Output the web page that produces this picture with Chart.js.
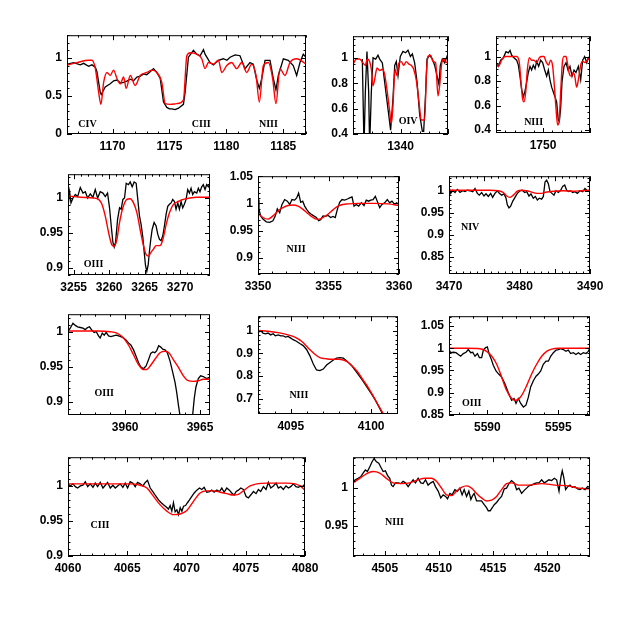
<!DOCTYPE html>
<html><head><meta charset="utf-8">
<script src="https://cdn.jsdelivr.net/npm/chart.js@4/dist/chart.umd.min.js"></script>
<style>html,body{margin:0;padding:0;background:#fff;}#wrap{position:relative;width:623px;height:623px;overflow:hidden;background:#fff}canvas{position:absolute}</style>
</head><body><div id="wrap"></div>
<script>
// ---- Panel 1: CIV / CIII / NIII (1166-1187 A) ----
const p1Obs=[[1166.06,.92],[1166.58,.94],[1167.17,.91],[1167.46,.93],[1167.90,.89],[1168.19,.91],[1168.49,.88],[1168.63,.82],[1168.92,.55],[1169.01,.52],[1169.36,.62],[1169.80,.66],[1170.10,.70],[1170.39,.71],[1170.70,.67],[1170.97,.68],[1171.30,.70],[1171.56,.72],[1171.85,.70],[1172.14,.75],[1172.45,.76],[1172.73,.79],[1173.00,.78],[1173.31,.82],[1173.60,.86],[1173.89,.81],[1174.19,.73],[1174.48,.42],[1174.77,.35],[1175.00,.33],[1175.21,.33],[1175.50,.32],[1175.80,.34],[1176.23,.39],[1176.38,.55],[1176.67,1.01],[1177.11,1.10],[1177.40,1.05],[1177.70,1.03],[1177.99,1.11],[1178.13,1.05],[1178.57,.94],[1178.87,.91],[1179.30,.97],[1179.74,.99],[1180.05,.97],[1180.33,1.01],[1180.77,1.04],[1181.20,1.03],[1181.64,.86],[1182.08,.94],[1182.37,.92],[1182.67,.71],[1182.90,.60],[1183.11,.73],[1183.40,.97],[1183.84,.97],[1184.13,.73],[1184.36,.58],[1184.57,.77],[1185.01,.99],[1185.44,.97],[1185.88,.90],[1186.18,.77],[1186.47,.94],[1186.76,1.05],[1187.0,1.01]];
const p1Fit=[[1166.06,.91],[1166.88,.94],[1167.90,.97],[1168.19,.97],[1168.49,.86],[1168.78,.55],[1168.98,.39],[1169.22,.68],[1169.51,.81],[1169.80,.77],[1170.09,.84],[1170.39,.73],[1170.68,.66],[1170.97,.75],[1171.20,.60],[1171.56,.77],[1171.99,.64],[1172.43,.77],[1173.02,.81],[1173.46,.84],[1173.89,.81],[1174.33,.68],[1174.63,.40],[1175.06,.39],[1175.65,.40],[1176.23,.45],[1176.53,1.03],[1176.82,1.07],[1177.40,1.05],[1177.84,.99],[1178.13,.86],[1178.43,.94],[1178.87,.92],[1179.30,.97],[1179.60,.81],[1180.04,.90],[1180.47,.94],[1180.91,.86],[1181.35,.94],[1181.79,.81],[1182.23,.92],[1182.61,.77],[1182.90,.42],[1183.25,.90],[1183.69,.94],[1184.07,.73],[1184.36,.40],[1184.71,.86],[1185.15,.77],[1185.59,.94],[1186.18,.99],[1187.0,.92]];
// ---- Panel 2: OIV (1335-1345 A) ----
const p2Obs=[[1335.98,.99],[1336.16,.30],[1336.30,.73],[1336.47,1.05],[1336.65,.73],[1336.75,.30],[1336.93,.73],[1337.11,1.0],[1337.39,.99],[1337.63,1.02],[1337.81,.99],[1338.09,.96],[1338.33,.81],[1338.68,.60],[1338.96,.43],[1339.21,.68],[1339.39,.94],[1339.56,.97],[1339.74,.86],[1339.98,1.01],[1340.26,1.05],[1340.54,1.04],[1340.79,1.06],[1341.04,1.01],[1341.25,1.03],[1341.49,.96],[1341.74,.81],[1342.02,.55],[1342.30,.42],[1342.44,.42],[1342.65,.73],[1342.79,.99],[1343.07,1.02],[1343.35,.99],[1343.60,.94],[1343.84,.86],[1344.05,.79],[1344.19,.94],[1344.40,.99],[1344.65,.96],[1344.89,1.01],[1345.0,.99]];
const p2Fit=[[1335.0,.95],[1335.35,.99],[1335.70,.99],[1336.05,.96],[1336.30,.94],[1336.51,.99],[1336.75,.97],[1336.93,.91],[1337.11,.78],[1337.28,.83],[1337.53,.92],[1337.81,.90],[1338.09,.91],[1338.33,.87],[1338.61,.73],[1338.86,.58],[1339.04,.48],[1339.21,.63],[1339.42,.91],[1339.63,.86],[1339.84,.96],[1340.09,.97],[1340.33,.94],[1340.61,.97],[1340.89,.95],[1341.14,.94],[1341.39,.91],[1341.67,.82],[1341.95,.65],[1342.19,.51],[1342.54,.51],[1342.72,.86],[1342.89,1.01],[1343.18,1.02],[1343.42,.97],[1343.70,.96],[1343.95,.70],[1344.12,.78],[1344.33,.95],[1344.54,.99],[1344.82,.96],[1345.0,.99]];
// ---- Panel 3: NIII (1745-1755 A) ----
const p3Obs=[[1745.00,.95],[1745.25,.92],[1745.50,.97],[1745.78,.99],[1746.06,1.04],[1746.31,1.03],[1746.49,1.05],[1746.67,1.01],[1746.91,.99],[1747.20,.97],[1747.38,.93],[1747.55,.84],[1747.73,.73],[1747.91,.67],[1748.09,.72],[1748.26,.79],[1748.44,.87],[1748.62,.92],[1748.79,.89],[1748.97,.93],[1749.15,.90],[1749.33,.96],[1749.54,.92],[1749.75,.97],[1749.96,.95],[1750.18,.89],[1750.39,.84],[1750.57,.89],[1750.74,.81],[1750.92,.75],[1751.10,.71],[1751.28,.67],[1751.45,.63],[1751.63,.48],[1751.74,.47],[1751.88,.58],[1752.02,.79],[1752.23,.92],[1752.45,.95],[1752.66,.89],[1752.87,.92],[1753.09,.84],[1753.30,.89],[1753.51,.87],[1753.76,.92],[1754.01,.81],[1754.22,.97],[1754.43,1.00],[1754.65,.95],[1754.82,.99],[1755.0,.97]];
const p3Fit=[[1745.00,.95],[1745.25,.92],[1745.60,.97],[1745.96,1.0],[1747.20,1.0],[1747.48,.95],[1747.66,.79],[1747.84,.65],[1747.98,.63],[1748.16,.71],[1748.33,.89],[1748.55,.99],[1748.79,.97],[1749.04,.97],[1749.33,.95],[1749.61,.99],[1749.86,1.0],[1750.11,1.0],[1750.32,.96],[1750.57,.93],[1750.82,.97],[1751.03,.92],[1751.21,.76],[1751.38,.58],[1751.56,.44],[1751.70,.46],[1751.88,.71],[1752.06,.95],[1752.23,1.0],[1752.45,1.0],[1752.59,.95],[1752.80,.86],[1752.98,.84],[1753.23,.87],[1753.40,.83],[1753.58,.75],[1753.76,.81],[1754.01,.93],[1754.22,.96],[1754.47,.95],[1754.72,.97],[1755.0,.99]];
// ---- Panel 4: OIII (3254-3274 A) ----
const p4Obs=[[3254.20,.988],[3254.43,1.009],[3254.62,.993],[3254.90,1.0],[3255.23,1.005],[3255.56,1.002],[3255.93,1.015],[3256.31,1.007],[3256.64,1.009],[3256.96,1.0],[3257.34,1.006],[3257.71,1.001],[3258.04,1.012],[3258.37,1.0],[3258.74,1.009],[3259.12,1.007],[3259.45,1.002],[3259.77,1.007],[3260.05,.986],[3260.29,.96],[3260.52,.937],[3260.71,.93],[3260.90,.937],[3261.18,.969],[3261.46,.986],[3261.69,.984],[3261.93,.998],[3262.16,1.0],[3262.40,1.021],[3262.72,1.019],[3262.96,1.023],[3263.24,1.016],[3263.52,1.023],[3263.80,1.021],[3263.99,1.002],[3264.27,.974],[3264.50,.962],[3264.74,.944],[3264.93,.923],[3265.11,.904],[3265.30,.895],[3265.49,.904],[3265.68,.925],[3265.86,.941],[3266.05,.955],[3266.33,.965],[3266.61,.96],[3266.85,.948],[3267.08,.941],[3267.31,.939],[3267.55,.946],[3267.78,.96],[3268.02,.977],[3268.25,.988],[3268.49,.991],[3268.72,.993],[3268.95,.998],[3269.19,.995],[3269.42,.984],[3269.66,.993],[3269.89,.984],[3270.13,.995],[3270.36,.986],[3270.59,.991],[3270.83,.998],[3271.06,1.012],[3271.30,1.007],[3271.53,1.014],[3271.76,1.005],[3272.00,1.009],[3272.33,1.007],[3272.56,1.014],[3272.79,1.009],[3273.03,1.016],[3273.26,1.019],[3273.50,1.012],[3273.73,1.019],[3273.97,1.016],[3274.20,1.021]];
const p4Fit=[[3254.20,1.003],[3255.93,1.001],[3257.81,1.0],[3258.51,.998],[3258.98,.991],[3259.45,.974],[3259.91,.951],[3260.38,.933],[3260.71,.931],[3261.09,.941],[3261.46,.965],[3261.93,.986],[3262.49,.998],[3262.96,.999],[3263.43,.993],[3263.90,.979],[3264.36,.955],[3264.83,.932],[3265.21,.919],[3265.53,.917],[3265.86,.922],[3266.24,.927],[3266.61,.932],[3266.94,.932],[3267.27,.933],[3267.64,.944],[3268.02,.962],[3268.49,.979],[3269.05,.991],[3269.75,.995],[3270.45,.998],[3271.39,1.0],[3272.33,1.001],[3274.20,1.001]];
// ---- Panel 5: NIII (3350-3360 A) ----
const p5Obs=[[3350.00,1.007],[3350.07,.989],[3350.19,.977],[3350.35,.971],[3350.59,.966],[3350.83,.965],[3351.06,.968],[3351.23,.977],[3351.37,.99],[3351.54,.983],[3351.70,.998],[3351.89,1.007],[3352.08,1.004],[3352.25,.998],[3352.41,1.007],[3352.60,1.006],[3352.74,1.01],[3352.88,1.019],[3353.03,1.002],[3353.17,1.004],[3353.31,.995],[3353.45,.989],[3353.62,.983],[3353.78,.98],[3353.95,.977],[3354.14,.974],[3354.30,.968],[3354.44,.97],[3354.61,.977],[3354.78,.976],[3354.96,.978],[3355.15,.974],[3355.32,.976],[3355.48,.974],[3355.63,.989],[3355.79,1.002],[3355.96,1.007],[3356.15,1.006],[3356.34,1.008],[3356.50,1.01],[3356.67,1.012],[3356.81,.995],[3356.97,.998],[3357.14,.995],[3357.33,1.001],[3357.52,.996],[3357.68,1.006],[3357.85,1.004],[3357.99,1.006],[3358.16,1.007],[3358.32,1.013],[3358.46,1.004],[3358.63,.992],[3358.79,.998],[3358.98,1.001],[3359.17,1.007],[3359.34,1.001],[3359.50,1.004],[3359.69,.998],[3359.83,1.001],[3360.00,.998]];
const p5Fit=[[3350.00,.982],[3350.35,.974],[3350.71,.971],[3351.06,.977],[3351.42,.986],[3351.77,.992],[3352.13,.996],[3352.48,.997],[3352.84,.995],[3353.19,.989],[3353.55,.981],[3353.90,.974],[3354.14,.971],[3354.37,.971],[3354.61,.974],[3354.96,.98],[3355.32,.988],[3355.67,.995],[3356.03,.998],[3356.38,.999],[3357.09,1.0],[3358.27,1.0],[3359.22,.999],[3360.00,.996]];
// ---- Panel 6: NIV (3470-3490 A) ----
const p6Obs=[[3470.00,1.009],[3470.24,.994],[3470.52,1.001],[3470.85,.996],[3471.18,1.003],[3471.56,.996],[3471.94,1.0],[3472.27,.998],[3472.60,1.001],[3472.98,1.0],[3473.36,.998],[3473.69,1.005],[3474.02,.994],[3474.30,.99],[3474.63,.996],[3474.96,.988],[3475.25,.993],[3475.58,.987],[3475.91,.994],[3476.19,.985],[3476.52,.994],[3476.86,1.0],[3477.14,.994],[3477.47,.99],[3477.80,.993],[3478.09,.983],[3478.27,.968],[3478.51,.961],[3478.75,.965],[3479.03,.976],[3479.36,.985],[3479.69,.994],[3480.07,1.0],[3480.40,1.001],[3480.73,.996],[3481.02,.998],[3481.35,.988],[3481.63,.993],[3481.96,.983],[3482.25,.987],[3482.53,.979],[3482.81,.983],[3483.14,.981],[3483.38,.987],[3483.62,1.02],[3483.85,1.024],[3484.09,1.016],[3484.33,.998],[3484.61,.994],[3484.89,.99],[3485.18,1.0],[3485.51,.996],[3485.84,1.001],[3486.12,1.01],[3486.41,1.013],[3486.69,1.001],[3486.97,.998],[3487.26,1.0],[3487.54,.996],[3487.87,.998],[3488.20,.994],[3488.58,1.0],[3488.96,.998],[3489.29,1.005],[3489.62,1.0],[3490.00,1.001]];
const p6Fit=[[3470.00,1.001],[3472.51,1.001],[3475.82,1.001],[3477.00,1.0],[3477.71,.996],[3478.18,.988],[3478.65,.985],[3479.13,.99],[3479.69,.999],[3480.31,1.001],[3481.02,1.0],[3481.73,.997],[3482.43,.994],[3483.14,.994],[3483.85,.997],[3484.80,.999],[3486.22,1.0],[3487.64,.999],[3488.82,1.0],[3490.00,1.001]];
// ---- Panel 7: OIII (3956-3966 A) ----
const p7Obs=[[3956.18,1.001],[3956.33,1.005],[3956.51,1.012],[3956.67,1.009],[3956.82,1.007],[3957.00,1.006],[3957.18,1.005],[3957.33,1.003],[3957.49,1.006],[3957.62,1.007],[3957.78,1.002],[3957.93,.999],[3958.07,1.0],[3958.22,.994],[3958.33,.991],[3958.47,.998],[3958.60,.995],[3958.73,.999],[3958.89,.994],[3959.04,.993],[3959.22,.994],[3959.40,.995],[3959.56,.994],[3959.71,.993],[3959.89,.991],[3960.07,.988],[3960.22,.984],[3960.38,.981],[3960.56,.974],[3960.73,.965],[3960.89,.956],[3961.04,.95],[3961.22,.947],[3961.40,.951],[3961.56,.96],[3961.71,.969],[3961.84,.971],[3961.98,.97],[3962.11,.973],[3962.24,.98],[3962.38,.978],[3962.51,.975],[3962.67,.974],[3962.82,.97],[3963.00,.958],[3963.18,.942],[3963.33,.928],[3963.44,.914],[3963.56,.895],[3963.71,.874],[3963.89,.858],[3964.11,.853],[3964.33,.858],[3964.51,.881],[3964.62,.905],[3964.73,.921],[3964.89,.933],[3965.04,.937],[3965.22,.936],[3965.44,.933],[3965.67,.935]];
const p7Fit=[[3956.18,1.001],[3957.00,1.001],[3958.11,1.001],[3959.00,1.0],[3959.44,.998],[3959.89,.991],[3960.22,.981],[3960.56,.967],[3960.89,.953],[3961.22,.946],[3961.44,.946],[3961.67,.951],[3962.00,.961],[3962.33,.97],[3962.67,.972],[3962.96,.969],[3963.22,.96],[3963.56,.949],[3963.89,.937],[3964.22,.93],[3964.56,.929],[3964.89,.93],[3965.22,.932],[3965.67,.932]];
// ---- Panel 8: NIII (4093-4101.7 A) ----
const p8Obs=[[4092.96,.991],[4093.13,1.0],[4093.27,.989],[4093.42,.986],[4093.58,.989],[4093.75,.981],[4093.90,.986],[4094.04,.977],[4094.21,.981],[4094.38,.977],[4094.52,.977],[4094.67,.971],[4094.83,.974],[4095.00,.967],[4095.15,.96],[4095.35,.953],[4095.56,.943],[4095.77,.934],[4095.98,.917],[4096.19,.889],[4096.40,.853],[4096.60,.827],[4096.81,.824],[4097.02,.831],[4097.23,.849],[4097.44,.86],[4097.65,.871],[4097.85,.879],[4098.06,.881],[4098.27,.879],[4098.48,.867],[4098.79,.846],[4099.10,.817],[4099.42,.786],[4099.73,.753],[4100.00,.724],[4100.25,.696],[4100.50,.663],[4100.71,.634],[4100.88,.61]];
const p8Fit=[[4092.96,1.0],[4093.58,.997],[4094.21,.991],[4094.83,.981],[4095.25,.971],[4095.67,.953],[4096.08,.924],[4096.50,.896],[4096.81,.881],[4097.13,.877],[4097.54,.874],[4097.96,.874],[4098.27,.871],[4098.58,.86],[4098.90,.839],[4099.21,.814],[4099.52,.781],[4099.83,.749],[4100.15,.71],[4100.46,.671],[4100.77,.634],[4100.98,.61]];
// ---- Panel 9: OIII (5587.3-5597.2 A) ----
const p9Obs=[[5587.30,.997],[5587.42,.99],[5587.61,.991],[5587.79,.99],[5587.96,.986],[5588.12,.982],[5588.31,.988],[5588.50,.991],[5588.66,.997],[5588.83,.99],[5588.97,.991],[5589.13,.982],[5589.30,.988],[5589.44,.979],[5589.60,.979],[5589.72,.996],[5589.86,1.001],[5590.00,1.003],[5590.14,.986],[5590.28,.975],[5590.42,.962],[5590.61,.949],[5590.80,.942],[5591.01,.935],[5591.24,.92],[5591.48,.9],[5591.71,.883],[5591.88,.887],[5592.02,.876],[5592.18,.887],[5592.35,.876],[5592.54,.868],[5592.72,.872],[5592.89,.89],[5593.05,.913],[5593.24,.927],[5593.43,.937],[5593.59,.942],[5593.76,.949],[5593.94,.964],[5594.13,.971],[5594.30,.971],[5594.46,.982],[5594.65,.99],[5594.84,.996],[5595.00,.997],[5595.16,.999],[5595.35,.997],[5595.54,.993],[5595.70,.996],[5595.87,.988],[5596.06,.99],[5596.24,.986],[5596.41,.99],[5596.57,.986],[5596.76,.99],[5596.95,.988],[5597.11,.993],[5597.23,1.001]];
const p9Fit=[[5587.30,1.0],[5588.54,1.0],[5589.48,.999],[5589.95,.993],[5590.31,.982],[5590.66,.964],[5591.01,.935],[5591.36,.905],[5591.71,.887],[5591.95,.883],[5592.18,.885],[5592.42,.894],[5592.77,.916],[5593.12,.942],[5593.47,.964],[5593.83,.982],[5594.18,.993],[5594.53,.998],[5595.00,1.0],[5597.23,1.0]];
// ---- Panel 10: CIII (4060-4080 A) ----
const p10Obs=[[4060.00,1.003],[4060.20,1.0],[4060.42,1.003],[4060.62,.999],[4060.81,.997],[4061.04,1.0],[4061.26,1.001],[4061.46,1.006],[4061.66,.999],[4061.88,1.003],[4062.11,.998],[4062.30,1.004],[4062.50,.999],[4062.72,1.005],[4062.95,.997],[4063.15,1.001],[4063.34,1.005],[4063.57,.997],[4063.79,1.001],[4063.99,.997],[4064.19,1.0],[4064.41,1.003],[4064.63,.998],[4064.83,1.004],[4065.03,.997],[4065.25,1.006],[4065.48,1.004],[4065.67,.999],[4065.87,1.005],[4066.10,1.003],[4066.32,1.0],[4066.52,1.005],[4066.71,1.008],[4066.94,.997],[4067.16,.992],[4067.39,.986],[4067.64,.98],[4067.87,.976],[4068.06,.973],[4068.29,.97],[4068.48,.967],[4068.62,.972],[4068.76,.964],[4068.90,.976],[4069.04,.963],[4069.19,.966],[4069.33,.959],[4069.47,.969],[4069.61,.964],[4069.75,.971],[4069.92,.972],[4070.08,.976],[4070.25,.98],[4070.45,.985],[4070.65,.99],[4070.87,.994],[4071.10,.997],[4071.29,.995],[4071.49,.998],[4071.71,.991],[4071.94,.992],[4072.13,.994],[4072.33,.991],[4072.56,.994],[4072.78,.992],[4072.98,.997],[4073.17,.991],[4073.40,.997],[4073.62,.994],[4073.82,.99],[4074.02,.987],[4074.19,.992],[4074.38,.994],[4074.58,.997],[4074.80,.995],[4075.03,.985],[4075.22,.983],[4075.42,.987],[4075.65,.992],[4075.87,.989],[4076.07,.995],[4076.26,.992],[4076.49,.999],[4076.71,.995],[4076.91,1.005],[4077.11,.997],[4077.33,1.0],[4077.56,1.004],[4077.75,.997],[4077.95,.999],[4078.17,.995],[4078.40,1.0],[4078.60,.997],[4078.79,.999],[4079.02,1.003],[4079.24,.999],[4079.44,.998],[4079.63,1.0],[4079.80,.999],[4080.00,1.003]];
const p10Fit=[[4060.00,1.003],[4062.44,1.003],[4065.25,1.003],[4066.10,1.001],[4066.66,.997],[4067.22,.985],[4067.78,.973],[4068.34,.964],[4068.90,.959],[4069.47,.96],[4070.03,.965],[4070.59,.978],[4071.15,.99],[4071.71,.993],[4072.28,.993],[4072.84,.991],[4073.40,.989],[4073.96,.987],[4074.38,.988],[4074.80,.993],[4075.37,1.0],[4075.93,1.003],[4076.77,1.004],[4077.61,1.004],[4078.46,1.004],[4079.16,1.003],[4079.58,1.0],[4080.00,.994]];
// ---- Panel 11: NIII (4502-4524 A) ----
const p11Obs=[[4502.07,1.009],[4502.29,1.011],[4502.54,1.013],[4502.78,1.015],[4503.00,1.02],[4503.21,1.024],[4503.40,1.022],[4503.61,1.028],[4503.83,1.035],[4504.01,1.039],[4504.23,1.035],[4504.45,1.033],[4504.63,1.028],[4504.85,1.022],[4505.06,1.023],[4505.25,1.017],[4505.46,1.013],[4505.62,1.004],[4505.77,1.002],[4505.99,1.007],[4506.23,1.007],[4506.48,1.006],[4506.69,1.009],[4506.91,1.007],[4507.16,1.002],[4507.40,1.007],[4507.62,1.011],[4507.83,1.007],[4508.08,1.013],[4508.33,1.007],[4508.54,1.006],[4508.76,1.011],[4509.00,1.004],[4509.25,1.007],[4509.47,1.009],[4509.68,1.002],[4509.93,.996],[4510.17,.987],[4510.39,.991],[4510.61,.989],[4510.79,.986],[4511.01,.993],[4511.22,.991],[4511.47,.998],[4511.71,.996],[4511.93,1.0],[4512.14,.991],[4512.33,.998],[4512.55,.989],[4512.76,.996],[4512.95,.985],[4513.07,.989],[4513.25,.993],[4513.47,.983],[4513.68,.983],[4513.93,.983],[4514.18,.978],[4514.39,.974],[4514.55,.97],[4514.73,.97],[4514.92,.974],[4515.10,.978],[4515.32,.981],[4515.53,.985],[4515.78,.989],[4516.03,.999],[4516.24,1.0],[4516.46,1.006],[4516.70,1.01],[4516.95,1.007],[4517.17,.998],[4517.38,1.0],[4517.63,.993],[4517.87,.997],[4518.09,1.0],[4518.30,1.003],[4518.55,1.004],[4518.80,1.006],[4519.01,1.007],[4519.23,1.007],[4519.48,1.011],[4519.72,1.007],[4519.94,1.009],[4520.15,1.011],[4520.40,1.01],[4520.65,1.013],[4520.86,1.011],[4521.08,.996],[4521.26,1.015],[4521.38,1.023],[4521.51,1.015],[4521.69,.998],[4521.88,1.002],[4522.09,1.004],[4522.31,1.001],[4522.55,1.002],[4522.80,.999],[4523.02,.998],[4523.23,1.0],[4523.48,.998],[4523.72,1.002],[4523.94,1.001]];
const p11Fit=[[4502.07,1.007],[4502.69,1.013],[4503.31,1.019],[4503.92,1.022],[4504.54,1.02],[4505.15,1.013],[4505.77,1.007],[4506.54,1.006],[4507.31,1.007],[4508.08,1.011],[4508.70,1.013],[4509.31,1.013],[4509.77,1.009],[4510.24,1.0],[4510.70,.991],[4511.16,.99],[4511.62,.996],[4512.08,1.001],[4512.55,1.003],[4513.01,1.0],[4513.47,.993],[4513.93,.987],[4514.39,.983],[4514.86,.984],[4515.32,.989],[4515.78,.998],[4516.24,1.006],[4516.70,1.007],[4517.32,1.004],[4518.24,1.004],[4519.48,1.006],[4520.71,1.004],[4521.94,1.003],[4522.86,1.0],[4523.94,.999]];

// ---- axis tick labels and ion labels ----
const p1XTicks=[1170,1175,1180,1185], p1YTicks=[0,0.5,1];
const p2XTicks=[1340], p2YTicks=[0.4,0.6,0.8,1];
const p3XTicks=[1750], p3YTicks=[0.4,0.6,0.8,1];
const p4XTicks=[3255,3260,3265,3270], p4YTicks=[0.9,0.95,1];
const p5XTicks=[3350,3355,3360], p5YTicks=[0.9,0.95,1,1.05];
const p6XTicks=[3470,3480,3490], p6YTicks=[0.85,0.9,0.95,1];
const p7XTicks=[3960,3965], p7YTicks=[0.9,0.95,1];
const p8XTicks=[4095,4100], p8YTicks=[0.7,0.8,0.9,1];
const p9XTicks=[5590,5595], p9YTicks=[0.85,0.9,0.95,1,1.05];
const p10XTicks=[4060,4065,4070,4075,4080], p10YTicks=[0.9,0.95,1];
const p11XTicks=[4505,4510,4515,4520], p11YTicks=[0.95,1];
const p1Ions=[["CIV",1167.8,0.13],["CIII",1177.8,0.13],["NIII",1183.7,0.13]];
const p2Ions=[["OIV",1340.8,0.5]];
const p3Ions=[["NIII",1749.0,0.46]];
const p4Ions=[["OIII",3257.8,0.905]];
const p5Ions=[["NIII",3352.7,0.916]];
const p6Ions=[["NIV",3473.0,0.916]];
const p7Ions=[["OIII",3958.6,0.912]];
const p8Ions=[["NIII",4095.5,0.717]];
const p9Ions=[["OIII",5588.9,0.876]];
const p10Ions=[["CIII",4062.7,0.943]];
const p11Ions=[["NIII",4505.9,0.954]];

// ---- layout (page pixel boxes of each plot frame) ----
const panels=[
 {obs:p1Obs,fit:p1Fit,xr:[1166,1187],yr:[0,1.3],xt:p1XTicks,yt:p1YTicks,xMaj:5,xMin:1,yMaj:0.5,yMin:0.1,ions:p1Ions,box:[67,33,306,134]},
 {obs:p2Obs,fit:p2Fit,xr:[1335,1345],yr:[0.4,1.17],xt:p2XTicks,yt:p2YTicks,xMaj:5,xMin:1,yMaj:0.2,yMin:0.05,ions:p2Ions,box:[353,34,448,134]},
 {obs:p3Obs,fit:p3Fit,xr:[1745,1755],yr:[0.376,1.166],xt:p3XTicks,yt:p3YTicks,xMaj:5,xMin:1,yMaj:0.2,yMin:0.05,ions:p3Ions,box:[496,34,590,133]},
 {obs:p4Obs,fit:p4Fit,xr:[3254.2,3274.2],yr:[0.89,1.034],xt:p4XTicks,yt:p4YTicks,xMaj:5,xMin:1,yMaj:0.05,yMin:0.01,ions:p4Ions,box:[68,172,210,275]},
 {obs:p5Obs,fit:p5Fit,xr:[3350,3360],yr:[0.87,1.05],xt:p5XTicks,yt:p5YTicks,xMaj:5,xMin:1,yMaj:0.05,yMin:0.01,ions:p5Ions,box:[258,174,399,274]},
 {obs:p6Obs,fit:p6Fit,xr:[3470,3490],yr:[0.811,1.033],xt:p6XTicks,yt:p6YTicks,xMaj:5,xMin:1,yMaj:0.05,yMin:0.01,ions:p6Ions,box:[449,174,590,274]},
 {obs:p7Obs,fit:p7Fit,xr:[3956.18,3965.67],yr:[0.881,1.025],xt:p7XTicks,yt:p7YTicks,xMaj:5,xMin:1,yMaj:0.05,yMin:0.01,ions:p7Ions,box:[68,312,210,415]},
 {obs:p8Obs,fit:p8Fit,xr:[4092.96,4101.67],yr:[0.634,1.063],xt:p8XTicks,yt:p8YTicks,xMaj:5,xMin:1,yMaj:0.1,yMin:0.02,ions:p8Ions,box:[258,314,398,414]},
 {obs:p9Obs,fit:p9Fit,xr:[5587.3,5597.23],yr:[0.85,1.072],xt:p9XTicks,yt:p9YTicks,xMaj:5,xMin:1,yMaj:0.05,yMin:0.01,ions:p9Ions,box:[449,314,590,415]},
 {obs:p10Obs,fit:p10Fit,xr:[4060,4080],yr:[0.9,1.041],xt:p10XTicks,yt:p10YTicks,xMaj:5,xMin:1,yMaj:0.05,yMin:0.01,ions:p10Ions,box:[68,455,305,556]},
 {obs:p11Obs,fit:p11Fit,xr:[4502.07,4523.94],yr:[0.91,1.041],xt:p11XTicks,yt:p11YTicks,xMaj:5,xMin:1,yMaj:0.05,yMin:0.01,ions:p11Ions,box:[353,455,590,556]}
];
const PADL=45,PADT=10,PADR=22,PADB=22;
const TICKFONT={family:'"Liberation Sans", Arial, sans-serif',size:12,weight:'bold'};

const frameTicks={id:'frameTicks',afterDatasetsDraw(chart,_a,o){
  const ctx=chart.ctx,a=chart.chartArea,xs=chart.scales.x,ys=chart.scales.y;
  ctx.save();ctx.strokeStyle='#000';ctx.lineWidth=1;
  const mark=(sc,step,major,horiz)=>{
    for(let k=Math.ceil(sc.min/step-1e-6);k*step<=sc.max+1e-9;k++){
      const v=k*step,r=v/major,isM=Math.abs(r-Math.round(r))<1e-6,len=isM?5:2.5;
      const px=Math.round(sc.getPixelForValue(v))+0.5;
      ctx.beginPath();
      if(horiz){ctx.moveTo(px,a.bottom);ctx.lineTo(px,a.bottom-len);ctx.moveTo(px,a.top);ctx.lineTo(px,a.top+len);}
      else{ctx.moveTo(a.left,px);ctx.lineTo(a.left+len,px);ctx.moveTo(a.right,px);ctx.lineTo(a.right-len,px);}
      ctx.stroke();
    }
  };
  mark(xs,o.xMin,o.xMaj,true);mark(ys,o.yMin,o.yMaj,false);
  ctx.strokeRect(a.left+0.5,a.top+0.5,a.right-a.left-1,a.bottom-a.top-1);
  ctx.fillStyle='#000';ctx.font='bold 10px "Liberation Serif", "Times New Roman", serif';
  ctx.textAlign='center';ctx.textBaseline='middle';
  o.ions.forEach(([t,x,y])=>ctx.fillText(t,xs.getPixelForValue(x),ys.getPixelForValue(y)));
  ctx.restore();
}};

const wrap=document.getElementById('wrap');
panels.forEach(p=>{
  const [L,T,R,B]=p.box;
  const c=document.createElement('canvas');
  const w=(R-L)+PADL+PADR,h=(B-T)+PADT+PADB;
  c.width=w;c.height=h;c.style.left=(L-PADL)+'px';c.style.top=(T-PADT)+'px';
  c.style.width=w+'px';c.style.height=h+'px';
  wrap.appendChild(c);
  new Chart(c,{type:'line',
    data:{datasets:[
      {data:p.fit.map(([x,y])=>({x,y})),borderColor:'#ff0000',borderWidth:1.4,pointRadius:0,fill:false,cubicInterpolationMode:'monotone'},
      {data:p.obs.map(([x,y])=>({x,y})),borderColor:'#000000',borderWidth:1.3,pointRadius:0,fill:false,tension:0}
    ]},
    options:{responsive:false,animation:false,events:[],devicePixelRatio:1,
      layout:{padding:{top:PADT,right:PADR,bottom:0,left:0}},
      plugins:{legend:{display:false},tooltip:{enabled:false},
        frameTicks:{xMin:p.xMin,xMaj:p.xMaj,yMin:p.yMin,yMaj:p.yMaj,ions:p.ions}},
      scales:{
        x:{type:'linear',min:p.xr[0],max:p.xr[1],grid:{display:false,drawTicks:false},border:{display:false},
          afterBuildTicks:s=>{s.ticks=p.xt.map(v=>({value:v}));},
          afterFit:s=>{s.height=PADB;},
          ticks:{autoSkip:false,maxRotation:0,minRotation:0,padding:5,color:'#000',font:TICKFONT,callback:v=>String(v)}},
        y:{type:'linear',min:p.yr[0],max:p.yr[1],grid:{display:false,drawTicks:false},border:{display:false},
          afterBuildTicks:s=>{s.ticks=p.yt.map(v=>({value:v}));},
          afterFit:s=>{s.width=PADL;},
          ticks:{autoSkip:false,padding:5,color:'#000',font:TICKFONT,callback:v=>String(v)}}
      }},
    plugins:[frameTicks]});
});
</script></body></html>
